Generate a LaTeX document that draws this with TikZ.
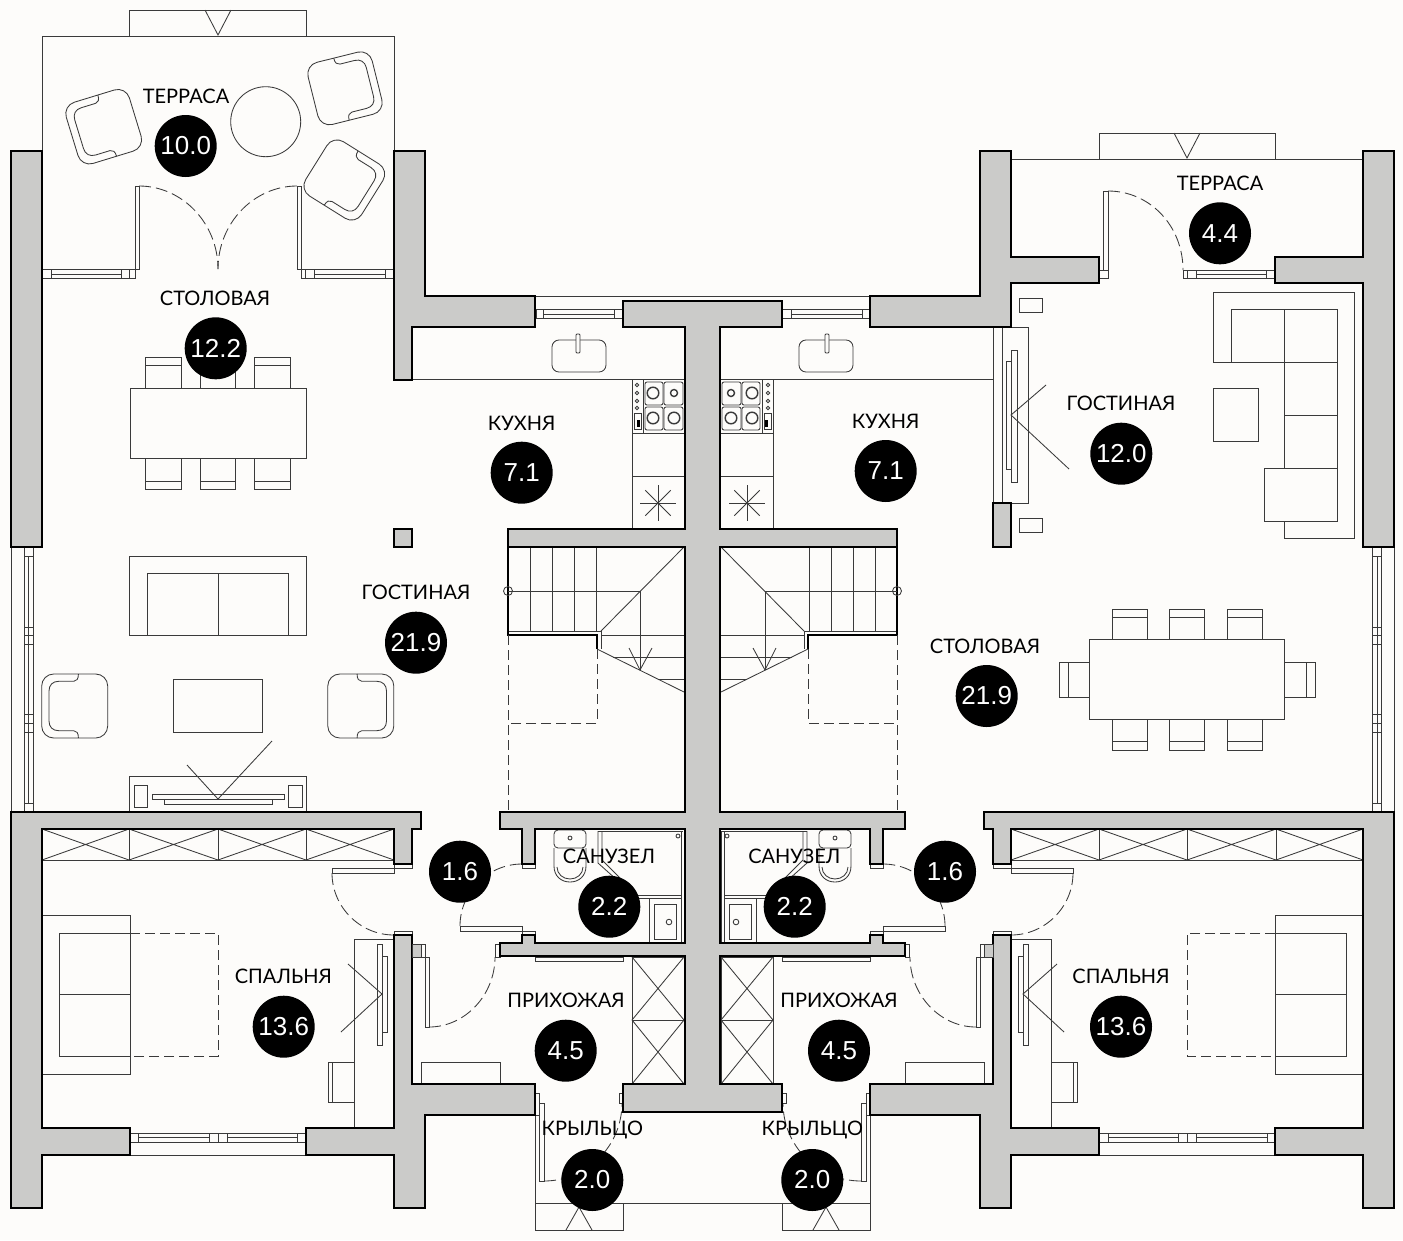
\documentclass[tikz,border=0pt]{standalone}
\usepackage{fontspec}
\setmainfont{Lato}
\newfontfamily\areafont{Liberation Sans}
\definecolor{wallgray}{HTML}{CBCBC9}
\definecolor{paper}{HTML}{FDFCFA}
\definecolor{inkgray}{HTML}{3A3A3A}
\tikzset{
  wall/.style={draw=black, fill=wallgray, line width=1.7pt, miter limit=4},
  furn/.style={draw=inkgray, line width=0.85pt},
  doorswing/.style={furn, dash pattern=on 12pt off 5pt},
  ghost/.style={furn, dash pattern=on 10pt off 5pt},
  roomname/.style={font=\fontsize{20}{20}\selectfont, text=black, inner sep=0pt},
  areadot/.style={circle, fill=black, text=white, minimum size=62pt, inner sep=0pt, font=\areafont\fontsize{26}{26}\selectfont},
  pics/armchair/.style={code={
    \draw[furn, rounded corners=12pt] (-33,-32) rectangle (33,32);
    \draw[furn] (3.7,-32) .. controls (3.7,-27) and (2,-24.7) .. (-1,-24.7) -- (-16,-24.7)
      .. controls (-22,-24.7) and (-25.7,-21) .. (-25.7,-15) -- (-25.7,15)
      .. controls (-25.7,21) and (-22,24.7) .. (-16,24.7) -- (-1,24.7)
      .. controls (2,24.7) and (3.7,27) .. (3.7,32);
  }},
}
% everything that repeats left and right of the party wall
\newcommand{\halfplan}{
  % kitchen
  \draw[furn] (535,296) -- (703,296);
  \draw[furn] (536,309) -- (623,309) (536,318) -- (623,318);
  \foreach \xa in {536,543,614} \draw[furn] (\xa,309) -- (\xa,318);
  \draw[furn] (543,314) -- (614,314);
  \draw[furn] (412,379.5) -- (685,379.5);
  \draw[furn] (632,379.5) -- (632,529) (643,379.5) -- (643,433) (632,433) -- (685,433) (632,476) -- (685,476);
  \draw[furn, rounded corners=7pt] (552,340) rectangle (606,372);
  \draw[furn, fill=paper, rounded corners=1pt] (576,334) rectangle (580,353);
  \foreach \xa/\xb in {645/663,664/683} \foreach \ya/\yb in {382/405,407/430}
    \draw[furn, rounded corners=2pt] (\xa,\ya) rectangle (\xb,\yb);
  \draw[furn, line width=1.4pt] (653,393) circle (5.8) (674,393) circle (3.5) (653,418) circle (5.8) (674,418) circle (5.8);
  \foreach \ya in {385,393,401,408} \draw[furn] (637,\ya) circle (1.8);
  \draw[furn] (634,413) rectangle (641,429);
  \fill[black] (637,420) rectangle (640,427);
  \foreach \ang in {0,45,...,315} \draw[furn] (658,503) -- ++(\ang:18);
  % stairs
  \foreach \xa in {530,552,574,596} \draw[furn] (\xa,547) -- (\xa,631);
  \draw[furn] (508,631) -- (601,631) -- (601,649);
  \draw[black, line width=1.1pt] (508,547) -- (508,635) -- (597,635) -- (597,649);
  \draw[furn] (601,631) -- (684,547);
  \draw[furn] (597,649) -- (684,692);
  \draw[furn] (601,635) -- (684,635) (613,657) -- (684,657) (658,679) -- (684,679);
  \draw[furn] (508,591) circle (4.5);
  \draw[furn] (508,591) -- (640,591) -- (640,670);
  \draw[furn] (629,648) -- (640,670) -- (652,648);
  \draw[ghost] (508,635) -- (508,811) (597,649) -- (597,723) -- (508,723);
  % bathroom
  \draw[furn, rounded corners=4pt] (554,830) rectangle (586,848);
  \draw[furn] (570,838) circle (2);
  \draw[furn] (554,848) -- (554,866) .. controls (554,876) and (561,882) .. (570,882) .. controls (579,882) and (586,876) .. (586,866) -- (586,848);
  \draw[furn] (557,867) .. controls (557,874) and (563,879) .. (570,879) .. controls (577,879) and (583,874) .. (583,867);
  \draw[furn] (598,831) -- (683,831) (681,831) -- (681,943) (684,831) -- (684,943);
  \draw[furn] (598,831) -- (598,863) -- (617,880) (602,831) -- (602,860) -- (620,878);
  \draw[furn] (632,895) -- (681,895) (632,898) -- (681,898);
  \draw[furn] (678,836) circle (2);
  \draw[furn] (649,899) -- (649,943);
  \draw[furn] (654,904) rectangle (676,939);
  \draw[furn] (669,922) circle (2.8);
  % doors of the hall
  \draw[furn] (460,926) rectangle (522,931);
  \draw[furn] (522,931) rectangle (535,935) (522,864) rectangle (535,868);
  \draw[doorswing] (460,926) .. controls (460,892) and (488,864) .. (522,864);
  \draw[furn] (495.5,944) rectangle (500,957);
  \draw[furn] (412,944) rectangle (425,957) (425,957) rectangle (429,1027);
  \draw[doorswing] (429,1027) .. controls (465,1027) and (495,995) .. (495,957);
  \draw[furn] (421,1084) -- (421,1062) -- (500,1062) -- (500,1084);
  \draw[furn] (535,957) rectangle (623,961);
  \draw[furn] (632,957) rectangle (684,1084) (632,1020) -- (684,1020);
  \draw[furn] (632,957) -- (684,1020) (632,1020) -- (684,957) (632,1020) -- (684,1084) (632,1084) -- (684,1020);
  % porch
  \draw[furn] (535,1093) rectangle (539,1115) (539,1103) rectangle (544,1181);
  \draw[furn] (619,1093) rectangle (623,1103);
  \draw[doorswing] (544,1181) .. controls (587,1181) and (622,1146) .. (622,1103);
  \draw[furn] (535,1115) -- (535,1230) -- (623,1230) -- (623,1203);
  \draw[furn] (535,1203) -- (703,1203);
  \draw[furn] (566,1230) -- (579,1207) -- (592,1230);
  % bedroom
  \draw[furn] (42,829) rectangle (394,860);
  \foreach \xa/\xb in {42/129,129/218,218/306,306/394} {
    \draw[furn] (\xb,829) -- (\xb,860);
    \draw[furn] (\xa,829) -- (\xb,860) (\xa,860) -- (\xb,829);
  }
  \draw[furn] (332,868) rectangle (394,873) (394,864) rectangle (412,868) (394,931) rectangle (412,935);
  \draw[doorswing] (332,873) .. controls (332,907) and (360,935) .. (394,935);
  \draw[furn] (42,915) -- (130,915) -- (130,1074) -- (42,1074);
  \draw[furn] (130,933) -- (59,933) -- (59,1056) -- (130,1056) (59,994) -- (130,994);
  \draw[ghost] (130,933) -- (218,933) -- (218,1056) -- (130,1056);
  \draw[furn] (394,939) -- (354,939) -- (354,1128);
  \draw[furn] (377,944) rectangle (382,1045) (382,956) rectangle (387,1032);
  \draw[furn] (348,964) -- (382,994) -- (341,1032);
  \draw[furn] (354,1062) -- (328,1062) -- (328,1102) -- (354,1102) (332,1062) -- (332,1102);
  \draw[furn] (130,1133) -- (306,1133) (130,1142) -- (306,1142) (130,1155) -- (306,1155);
  \foreach \xa in {130,138,209,218,227,297,306} \draw[furn] (\xa,1133) -- (\xa,1142);
  \draw[furn] (138,1137.5) -- (209,1137.5) (227,1137.5) -- (297,1137.5);
  % long window
  \draw[furn] (11,547) -- (11,812) (24,547) -- (24,812) (28,556) -- (28,803) (33,547) -- (33,812);
  \foreach \ya in {556,627,635,644,714,723,732,803} \draw[furn] (24,\ya) -- (33,\ya);
  % walls
  \draw[wall] (703,301) -- (623,301) -- (623,327) -- (685,327) -- (685,529) -- (508,529) -- (508,547) -- (685,547) -- (685,812) -- (500,812) -- (500,829) -- (522,829) -- (522,864) -- (535,864) -- (535,829) -- (685,829) -- (685,943) -- (535,943) -- (535,935) -- (522,935) -- (522,943) -- (500,943) -- (500,956) -- (685,956) -- (685,1084) -- (623,1084) -- (623,1112) -- (703,1112);
  \draw[wall] (11,812) -- (421,812) -- (421,829) -- (412,829) -- (412,864) -- (394,864) -- (394,829) -- (42,829) -- (42,1128) -- (130,1128) -- (130,1155) -- (42,1155) -- (42,1208) -- (11,1208) -- cycle;
  \draw[wall] (306,1128) -- (394,1128) -- (394,935) -- (412,935) -- (412,1084) -- (535,1084) -- (535,1115) -- (425,1115) -- (425,1208) -- (394,1208) -- (394,1155) -- (306,1155) -- cycle;
  \draw[furn, fill=wallgray] (412,944) rectangle (421,957);
}
\begin{document}
\begin{tikzpicture}[x=1pt, y=-1pt]
\useasboundingbox (0,0) rectangle (1403,1240);
\fill[paper] (0,0) rectangle (1403,1240);

\halfplan
\begin{scope}[shift={(1405,0)}, xscale=-1]
\halfplan
\end{scope}

% left wing, terrace
\draw[furn] (129,36) -- (129,10) -- (306,10) -- (306,36);
\draw[furn] (205,10) -- (218,35) -- (231,10);
\draw[furn] (42,151) -- (42,36) -- (394,36) -- (394,151);
\draw[furn] (265.7,121.7) circle (35);
\pic[rotate=17] at (103.7,126.7) {armchair};
\pic[rotate=14, xscale=-1] at (345,88.3) {armchair};
\pic[rotate=-32, xscale=-1] at (344.3,180) {armchair};
\draw[furn] (135,186) rectangle (139,269.5) (297,186) rectangle (301,269.5);
\draw[doorswing] (139,186) .. controls (182,186) and (218,223) .. (218,269);
\draw[doorswing] (297,186) .. controls (254,186) and (218,223) .. (218,269);
\draw[furn] (42,269.5) -- (139,269.5) (42,278.7) -- (135,278.7) (297,269.5) -- (394,269.5) (301,278.7) -- (394,278.7);
\foreach \xa in {51,121,129,135,301,305,314,385} \draw[furn] (\xa,269.5) -- (\xa,278.7);
\draw[furn] (51,274) -- (121,274) (314,274) -- (385,274);

% left wing, dining and living
\draw[furn] (130,388) rectangle (306,458);
\foreach \xa/\xb in {145/181,200/235,254/290} {
  \draw[furn] (\xa,388) -- (\xa,357) -- (\xb,357) -- (\xb,388) (\xa,365) -- (\xb,365);
  \draw[furn] (\xa,458) -- (\xa,489) -- (\xb,489) -- (\xb,458) (\xa,481) -- (\xb,481);
}
\draw[furn] (129,635) -- (129,556) -- (306,556) -- (306,635) -- cycle;
\draw[furn] (147,635) -- (147,573) -- (288,573) -- (288,635) (218,573) -- (218,635);
\draw[furn] (173,679) rectangle (262,732);
\pic at (74.7,706) {armchair};
\pic[xscale=-1] at (360.8,706) {armchair};
\draw[furn] (129,811) -- (129,776) -- (306,776) -- (306,811);
\draw[furn] (134,785) rectangle (147,807) (288,785) rectangle (302,807);
\draw[furn] (152,794) rectangle (284,799) (164,799) rectangle (272,804);
\draw[furn] (187,765) -- (218,799) -- (272,741);

% right wing
\draw[furn] (1099,159) -- (1099,133) -- (1275,133) -- (1275,159);
\draw[furn] (1174,133) -- (1187,158) -- (1200,133);
\draw[furn] (1011,159) -- (1363,159);
\draw[furn] (1103,191) rectangle (1108,270) (1099,270) rectangle (1108,278);
\draw[doorswing] (1108,191) .. controls (1150,191) and (1183,226) .. (1183,270);
\draw[furn] (1183,270) -- (1275,270) (1183,278) -- (1275,278) (1196,274) -- (1266,274);
\foreach \xa in {1183,1187,1196,1266} \draw[furn] (\xa,270) -- (\xa,278);
\draw[furn] (1213,362) -- (1213,292) -- (1354,292) -- (1354,538) -- (1284,538) -- (1284,521);
\draw[furn] (1231,362) -- (1231,309) -- (1337,309) -- (1337,521) -- (1264,521) -- (1264,468) -- (1337,468);
\draw[furn] (1213,362) -- (1337,362) (1284,415) -- (1337,415) (1284,309) -- (1284,468);
\draw[furn] (1213,388) rectangle (1258,441);
\draw[furn] (1002,327) rectangle (1028,503) (993,327) -- (993,503);
\draw[furn] (1011,350) rectangle (1017,482) (1006,361) rectangle (1011,469);
\draw[furn] (1046,385) -- (1011,415) -- (1069,469);
\draw[furn] (1019,298) rectangle (1042,312) (1019,518) rectangle (1042,532);
\draw[furn] (1089,639) rectangle (1284,719);
\foreach \xa/\xb in {1112/1147,1169/1204,1227/1262} {
  \draw[furn] (\xa,639) -- (\xa,609) -- (\xb,609) -- (\xb,639) (\xa,617) -- (\xb,617);
  \draw[furn] (\xa,719) -- (\xa,750) -- (\xb,750) -- (\xb,719) (\xa,741) -- (\xb,741);
}
\draw[furn] (1089,662) -- (1059,662) -- (1059,697) -- (1089,697) (1068,662) -- (1068,697);
\draw[furn] (1284,662) -- (1315,662) -- (1315,697) -- (1284,697) (1306,662) -- (1306,697);

% walls of the upper wings
\draw[wall] (11,151) rectangle (42,547);
\draw[wall] (394,151) -- (425,151) -- (425,296) -- (535,296) -- (535,327) -- (412,327) -- (412,380) -- (394,380) -- cycle;
\draw[wall] (394,529) rectangle (412,547);
\draw[wall] (980,151) -- (1011,151) -- (1011,257) -- (1099,257) -- (1099,283) -- (1011,283) -- (1011,327) -- (870,327) -- (870,296) -- (980,296) -- cycle;
\draw[wall] (1363,151) -- (1394,151) -- (1394,547) -- (1363,547) -- (1363,283) -- (1275,283) -- (1275,257) -- (1363,257) -- cycle;
\draw[wall] (993,503) rectangle (1011,547);

% rooms
\node[roomname] (terraceA) at (186,96) {ТЕРРАСА};
\node[areadot] (terraceAarea) at (185.7,146) {10.0};
\node[roomname] (diningA) at (215,298) {СТОЛОВАЯ};
\node[areadot] (diningAarea) at (215.7,348.3) {12.2};
\node[roomname] (kitchenA) at (521.7,423) {КУХНЯ};
\node[areadot] (kitchenAarea) at (521.7,472.7) {7.1};
\node[roomname] (livingA) at (416,592) {ГОСТИНАЯ};
\node[areadot] (livingAarea) at (416,642.7) {21.9};
\node[roomname] (bedroomA) at (283.3,976.7) {СПАЛЬНЯ};
\node[areadot] (bedroomAarea) at (283.7,1026.7) {13.6};
\node[areadot] (lobbyAarea) at (460,871.7) {1.6};
\node[roomname] (bathA) at (609,856.7) {САНУЗЕЛ};
\node[areadot] (bathAarea) at (609.3,906.7) {2.2};
\node[roomname] (hallA) at (566,1000.7) {ПРИХОЖАЯ};
\node[areadot] (hallAarea) at (565.7,1050.7) {4.5};
\node[roomname] (porchA) at (592.3,1130) {КРЫЛЬЦО};
\node[areadot] (porchAarea) at (592.3,1180) {2.0};
\node[roomname] (terraceB) at (1220,183) {ТЕРРАСА};
\node[areadot] (terraceBarea) at (1220,233.3) {4.4};
\node[roomname] (livingB) at (1121,403) {ГОСТИНАЯ};
\node[areadot] (livingBarea) at (1121.3,453.7) {12.0};
\node[roomname] (kitchenB) at (885.7,421) {КУХНЯ};
\node[areadot] (kitchenBarea) at (885.7,471) {7.1};
\node[roomname] (diningB) at (985,646) {СТОЛОВАЯ};
\node[areadot] (diningBarea) at (986.7,696) {21.9};
\node[roomname] (bedroomB) at (1121,976.7) {СПАЛЬНЯ};
\node[areadot] (bedroomBarea) at (1121,1026.7) {13.6};
\node[areadot] (lobbyBarea) at (945,871.7) {1.6};
\node[roomname] (bathB) at (794.3,856.7) {САНУЗЕЛ};
\node[areadot] (bathBarea) at (794.7,906.7) {2.2};
\node[roomname] (hallB) at (839,1000.7) {ПРИХОЖАЯ};
\node[areadot] (hallBarea) at (839,1050.7) {4.5};
\node[roomname] (porchB) at (812.3,1130) {КРЫЛЬЦО};
\node[areadot] (porchBarea) at (812.3,1180) {2.0};
\end{tikzpicture}
\end{document}
